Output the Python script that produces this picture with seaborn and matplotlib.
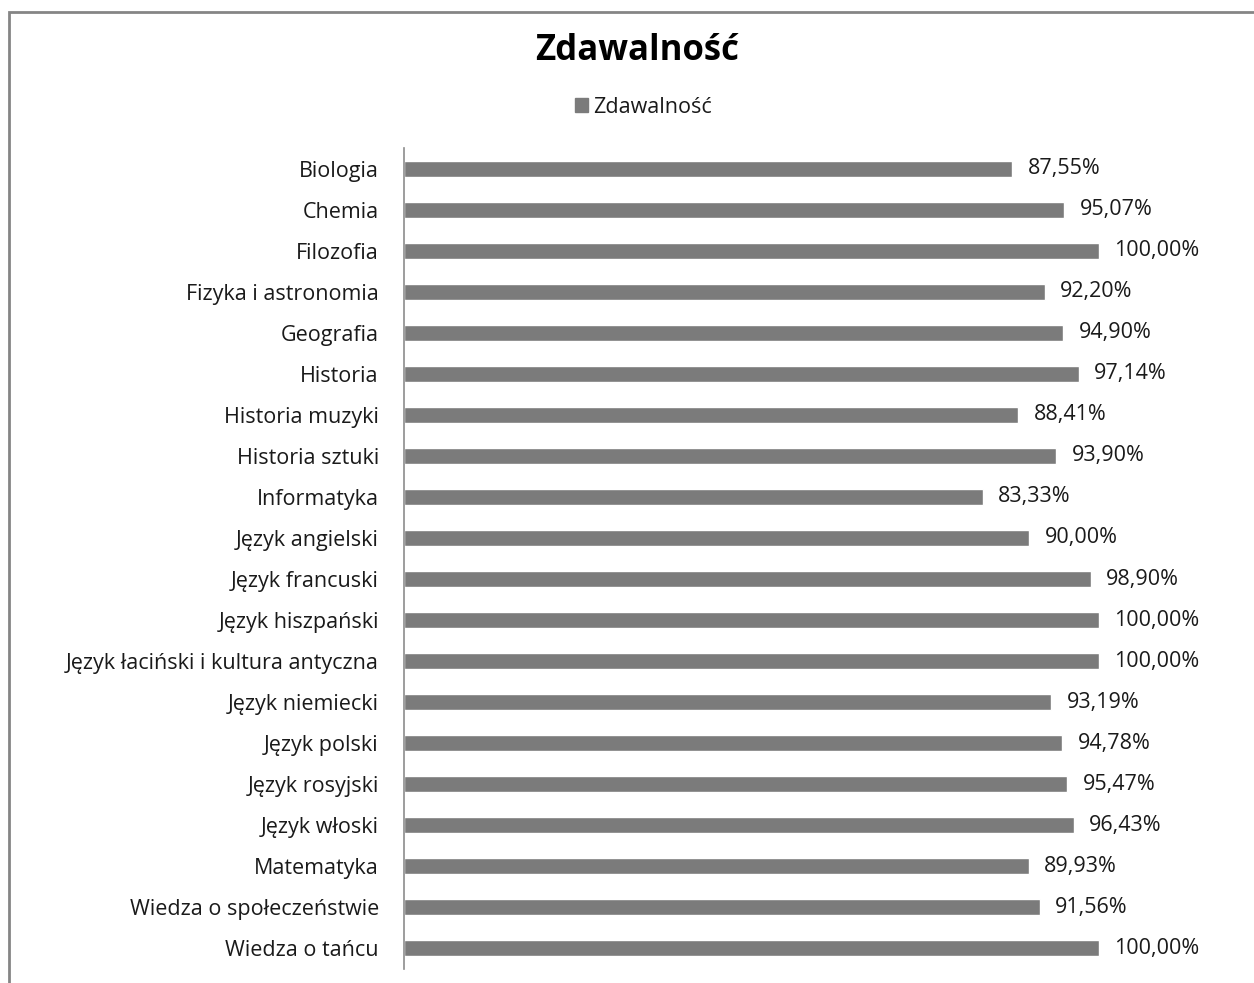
import pandas as pd
import matplotlib.pyplot as plt
import seaborn as sns
from matplotlib.patches import Rectangle

# data
subjects = [
    "Biologia", "Chemia", "Filozofia", "Fizyka i astronomia", "Geografia",
    "Historia", "Historia muzyki", "Historia sztuki", "Informatyka",
    "Język angielski", "Język francuski", "Język hiszpański",
    "Język łaciński i kultura antyczna", "Język niemiecki", "Język polski",
    "Język rosyjski", "Język włoski", "Matematyka",
    "Wiedza o społeczeństwie", "Wiedza o tańcu",
]
pass_rate = [
    87.55, 95.07, 100.00, 92.20, 94.90,
    97.14, 88.41, 93.90, 83.33,
    90.00, 98.90, 100.00,
    100.00, 93.19, 94.78,
    95.47, 96.43, 89.93,
    91.56, 100.00,
]
series_name = "Zdawalność"

df = pd.DataFrame({"subject": subjects, "rate": pass_rate, "series": series_name})

sns.set_style("white")
plt.rcParams["font.family"] = ["Open Sans", "DejaVu Sans"]

fig = plt.figure(figsize=(12.54, 9.83), dpi=100)
ax = fig.add_axes([0.322, 0.0143, 0.665, 0.8351])

bar_color = "#7b7b7b"
sns.barplot(data=df, y="subject", x="rate", hue="series", palette=[bar_color],
            orient="h", width=0.39, ax=ax, legend=False)

ax.set_xlim(0, 120)
ax.set_ylim(len(subjects) - 0.5, -0.5)
ax.set_xlabel("")
ax.set_ylabel("")
ax.set_xticks([])
ax.tick_params(axis="y", length=0, pad=18, labelsize=15.5, labelcolor="#1a1a1a")
for side in ["top", "right", "bottom"]:
    ax.spines[side].set_visible(False)
ax.spines["left"].set_color("#8c8c8c")
ax.spines["left"].set_linewidth(1.2)

# value labels, Polish decimal comma
for container in ax.containers:
    labels = [f"{v:.2f}%".replace(".", ",") for v in container.datavalues]
    ax.bar_label(container, labels=labels, padding=11, fontsize=15.5, color="#1a1a1a")

fig.suptitle("Zdawalność", x=0.508, y=0.948, va="center", fontsize=25,
             fontweight="bold", color="#000000")

handle = Rectangle((0, 0), 1, 1, color=bar_color)
fig.legend([handle], [series_name], loc="center", bbox_to_anchor=(0.513, 0.891),
           frameon=False, fontsize=15.5, handlelength=0.6, handleheight=0.6,
           handletextpad=0.25, labelcolor="#1a1a1a")

# outer chart frame (cut off at right and bottom in the reference)
fig.patches.append(Rectangle((0.0072, -0.1), 1.2, 1.0878, transform=fig.transFigure,
                             fill=False, edgecolor="#858585", linewidth=2))

fig.savefig("out.png", dpi=100)
